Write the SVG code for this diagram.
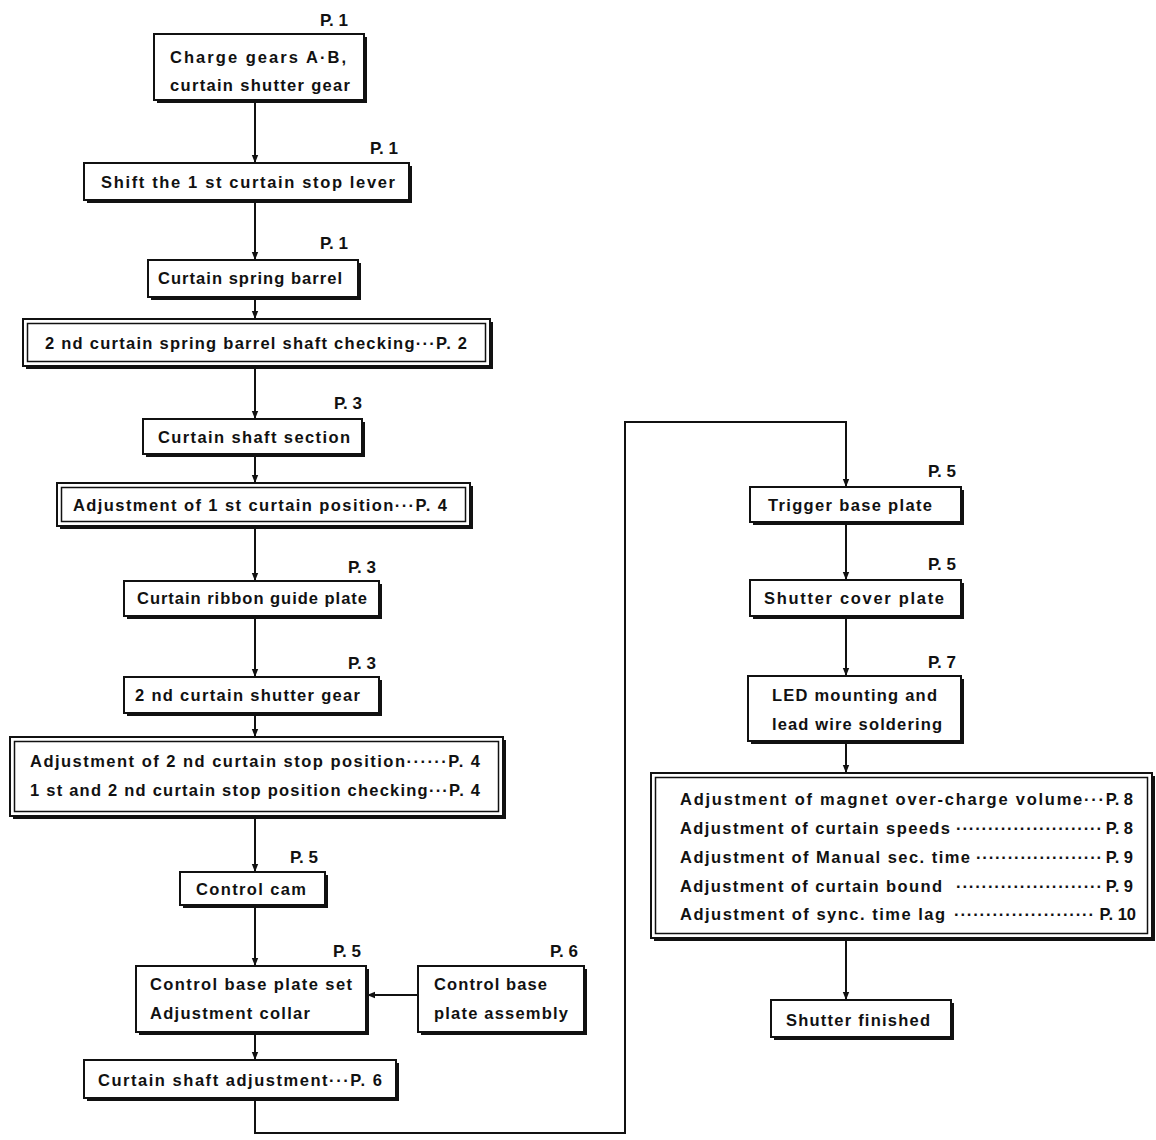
<svg xmlns="http://www.w3.org/2000/svg" width="1156" height="1140" viewBox="0 0 1156 1140">
<defs>
<style>
text{font-family:"Liberation Sans",Arial,sans-serif;font-weight:bold;font-size:16.5px;fill:#111}
.pg{font-size:17px;text-anchor:end}
.box{fill:#fff;stroke:#111;stroke-width:2}
.in{fill:none;stroke:#111;stroke-width:1.5}
.sh{fill:#111}
.ln{fill:none;stroke:#111;stroke-width:2}
</style>
<marker id="ah" viewBox="0 0 10 10" refX="10" refY="5" markerWidth="8" markerHeight="8" markerUnits="userSpaceOnUse" orient="auto">
<path d="M0,1 L10,5 L0,9 Z" fill="#111"/>
</marker>
</defs>
<rect width="1156" height="1140" fill="#fff"/>

<g id="connectors">
<line class="ln" x1="255" y1="100" x2="255" y2="163" marker-end="url(#ah)"/>
<line class="ln" x1="255" y1="200" x2="255" y2="260" marker-end="url(#ah)"/>
<line class="ln" x1="255" y1="297" x2="255" y2="319" marker-end="url(#ah)"/>
<line class="ln" x1="255" y1="366" x2="255" y2="419" marker-end="url(#ah)"/>
<line class="ln" x1="255" y1="454" x2="255" y2="483" marker-end="url(#ah)"/>
<line class="ln" x1="255" y1="526" x2="255" y2="581" marker-end="url(#ah)"/>
<line class="ln" x1="255" y1="616" x2="255" y2="677" marker-end="url(#ah)"/>
<line class="ln" x1="255" y1="713" x2="255" y2="737" marker-end="url(#ah)"/>
<line class="ln" x1="255" y1="816" x2="255" y2="872" marker-end="url(#ah)"/>
<line class="ln" x1="255" y1="905" x2="255" y2="966" marker-end="url(#ah)"/>
<line class="ln" x1="255" y1="1032" x2="255" y2="1060" marker-end="url(#ah)"/>
<line class="ln" x1="418" y1="995" x2="367" y2="995" marker-end="url(#ah)"/>
<path class="ln" d="M255,1098 V1133 H625 V422 H846 V487" marker-end="url(#ah)"/>
<line class="ln" x1="846" y1="522" x2="846" y2="580" marker-end="url(#ah)"/>
<line class="ln" x1="846" y1="616" x2="846" y2="676" marker-end="url(#ah)"/>
<line class="ln" x1="846" y1="741" x2="846" y2="773" marker-end="url(#ah)"/>
<line class="ln" x1="846" y1="938" x2="846" y2="1000" marker-end="url(#ah)"/>
</g>

<g id="n1">
<rect class="sh" x="157" y="37" width="210" height="66"/>
<rect class="box" x="154" y="34" width="210" height="66"/>
<text x="170" y="63" textLength="176" lengthAdjust="spacing">Charge gears A·B,</text>
<text x="170" y="91" textLength="180" lengthAdjust="spacing">curtain shutter gear</text>
<text class="pg" x="348" y="26">P. 1</text>
</g>

<g id="n2">
<rect class="sh" x="87" y="166" width="325" height="37"/>
<rect class="box" x="84" y="163" width="325" height="37"/>
<text x="101" y="188" textLength="294" lengthAdjust="spacing">Shift the 1 st curtain stop lever</text>
<text class="pg" x="398" y="154">P. 1</text>
</g>

<g id="n3">
<rect class="sh" x="151" y="263" width="210" height="37"/>
<rect class="box" x="148" y="260" width="210" height="37"/>
<text x="158" y="284" textLength="184" lengthAdjust="spacing">Curtain spring barrel</text>
<text class="pg" x="348" y="249">P. 1</text>
</g>

<g id="n4">
<rect class="sh" x="26" y="322" width="467" height="47"/>
<rect class="box" x="23" y="319" width="467" height="47"/>
<rect class="in" x="27.5" y="323.5" width="458" height="38"/>
<text x="45" y="349" textLength="422" lengthAdjust="spacing">2 nd curtain spring barrel shaft checking···P. 2</text>
</g>

<g id="n5">
<rect class="sh" x="146" y="422" width="219" height="35"/>
<rect class="box" x="143" y="419" width="219" height="35"/>
<text x="158" y="443" textLength="192" lengthAdjust="spacing">Curtain shaft section</text>
<text class="pg" x="362" y="409">P. 3</text>
</g>

<g id="n6">
<rect class="sh" x="60" y="486" width="413" height="43"/>
<rect class="box" x="57" y="483" width="413" height="43"/>
<rect class="in" x="61.5" y="487.5" width="404" height="34"/>
<text x="73" y="511" textLength="374" lengthAdjust="spacing">Adjustment of 1 st curtain position···P. 4</text>
</g>

<g id="n7">
<rect class="sh" x="127" y="584" width="255" height="35"/>
<rect class="box" x="124" y="581" width="255" height="35"/>
<text x="137" y="604" textLength="230" lengthAdjust="spacing">Curtain ribbon guide plate</text>
<text class="pg" x="376" y="573">P. 3</text>
</g>

<g id="n8">
<rect class="sh" x="127" y="680" width="255" height="36"/>
<rect class="box" x="124" y="677" width="255" height="36"/>
<text x="135" y="701" textLength="225" lengthAdjust="spacing">2 nd curtain shutter gear</text>
<text class="pg" x="376" y="669">P. 3</text>
</g>

<g id="n9">
<rect class="sh" x="13" y="740" width="493" height="79"/>
<rect class="box" x="10" y="737" width="493" height="79"/>
<rect class="in" x="14.5" y="741.5" width="484" height="70"/>
<text x="30" y="767" textLength="450" lengthAdjust="spacing">Adjustment of 2 nd curtain stop position······P. 4</text>
<text x="30" y="796" textLength="450" lengthAdjust="spacing">1 st and 2 nd curtain stop position checking···P. 4</text>
</g>

<g id="n10">
<rect class="sh" x="183" y="875" width="145" height="33"/>
<rect class="box" x="180" y="872" width="145" height="33"/>
<text x="196" y="895" textLength="110" lengthAdjust="spacing">Control cam</text>
<text class="pg" x="318" y="863">P. 5</text>
</g>

<g id="n11">
<rect class="sh" x="139" y="969" width="230" height="66"/>
<rect class="box" x="136" y="966" width="230" height="66"/>
<text x="150" y="990" textLength="202" lengthAdjust="spacing">Control base plate set</text>
<text x="150" y="1019" textLength="160" lengthAdjust="spacing">Adjustment collar</text>
<text class="pg" x="361" y="957">P. 5</text>
</g>

<g id="n12">
<rect class="sh" x="421" y="969" width="166" height="66"/>
<rect class="box" x="418" y="966" width="166" height="66"/>
<text x="434" y="990" textLength="113" lengthAdjust="spacing">Control base</text>
<text x="434" y="1019" textLength="134" lengthAdjust="spacing">plate assembly</text>
<text class="pg" x="578" y="957">P. 6</text>
</g>

<g id="n13">
<rect class="sh" x="87" y="1063" width="312" height="38"/>
<rect class="box" x="84" y="1060" width="312" height="38"/>
<text x="98" y="1086" textLength="284" lengthAdjust="spacing">Curtain shaft adjustment···P. 6</text>
</g>

<g id="n14">
<rect class="sh" x="753" y="490" width="211" height="35"/>
<rect class="box" x="750" y="487" width="211" height="35"/>
<text x="768" y="511" textLength="164" lengthAdjust="spacing">Trigger base plate</text>
<text class="pg" x="956" y="477">P. 5</text>
</g>

<g id="n15">
<rect class="sh" x="753" y="583" width="211" height="36"/>
<rect class="box" x="750" y="580" width="211" height="36"/>
<text x="764" y="604" textLength="180" lengthAdjust="spacing">Shutter cover plate</text>
<text class="pg" x="956" y="570">P. 5</text>
</g>

<g id="n16">
<rect class="sh" x="751" y="679" width="213" height="65"/>
<rect class="box" x="748" y="676" width="213" height="65"/>
<text x="772" y="701" textLength="165" lengthAdjust="spacing">LED mounting and</text>
<text x="772" y="730" textLength="170" lengthAdjust="spacing">lead wire soldering</text>
<text class="pg" x="956" y="668">P. 7</text>
</g>

<g id="n17">
<rect class="sh" x="654" y="776" width="501" height="165"/>
<rect class="box" x="651" y="773" width="501" height="165"/>
<rect class="in" x="655.5" y="777.5" width="492" height="156"/>
<text x="680" y="805" textLength="424" lengthAdjust="spacing">Adjustment of magnet over-charge volume···</text>
<text x="1133" y="805" text-anchor="end">P. 8</text>
<text x="680" y="834" textLength="270" lengthAdjust="spacing">Adjustment of curtain speeds</text>
<text x="956" y="834" textLength="146" lengthAdjust="spacing">·······················</text>
<text x="1133" y="834" text-anchor="end">P. 8</text>
<text x="680" y="863" textLength="290" lengthAdjust="spacing">Adjustment of Manual sec. time</text>
<text x="976" y="863" textLength="126" lengthAdjust="spacing">····················</text>
<text x="1133" y="863" text-anchor="end">P. 9</text>
<text x="680" y="892" textLength="262" lengthAdjust="spacing">Adjustment of curtain bound</text>
<text x="956" y="892" textLength="146" lengthAdjust="spacing">·······················</text>
<text x="1133" y="892" text-anchor="end">P. 9</text>
<text x="680" y="920" textLength="265" lengthAdjust="spacing">Adjustment of sync. time lag</text>
<text x="954" y="920" textLength="140" lengthAdjust="spacing">······················</text>
<text x="1136" y="920" text-anchor="end">P. 10</text>
</g>

<g id="n18">
<rect class="sh" x="774" y="1003" width="180" height="37"/>
<rect class="box" x="771" y="1000" width="180" height="37"/>
<text x="786" y="1026" textLength="144" lengthAdjust="spacing">Shutter finished</text>
</g>
</svg>
